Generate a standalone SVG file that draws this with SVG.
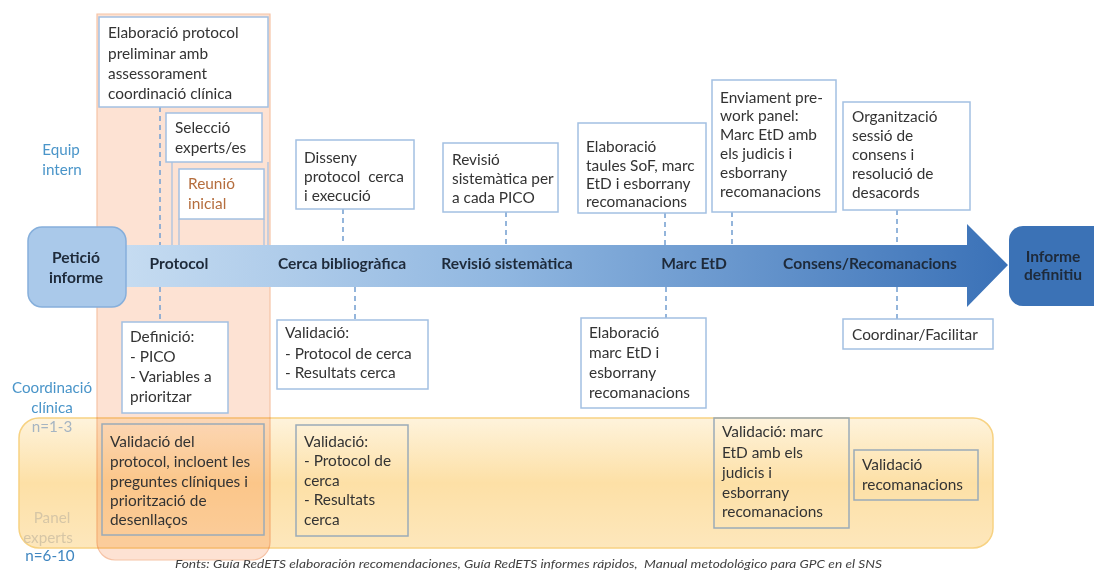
<svg xmlns="http://www.w3.org/2000/svg" width="1094" height="574" viewBox="0 0 1094 574">
  <style>
    text { font-family: Lato, "Open Sans", "Liberation Sans", sans-serif; }
    .t { font-size: 15.4px; fill: #333333; }
    .b { font-size: 15.6px; font-weight: bold; fill: #1e2a3a; text-anchor: middle; }
    .box { fill: #ffffff; stroke: #a3c0e2; stroke-width: 1.5; }
    .vbox { fill: none; stroke: #9aabb8; stroke-width: 1.5; }
    .dash { stroke: #7aa3d3; stroke-width: 1.6; stroke-dasharray: 5 4; fill: none; }
    .thin { stroke: #a3c0e2; stroke-width: 1.2; fill: none; }
    .side { font-size: 15.2px; text-anchor: middle; }
  </style>
  <defs>
    <linearGradient id="arrowGrad" gradientUnits="userSpaceOnUse" x1="100" y1="0" x2="1008" y2="0">
      <stop offset="0" stop-color="#c9def2"/>
      <stop offset="0.45" stop-color="#8fb6e0"/>
      <stop offset="1" stop-color="#3a71b7"/>
    </linearGradient>
    <linearGradient id="bandGrad" x1="0" y1="0" x2="0" y2="1">
      <stop offset="0" stop-color="#fef3dc"/>
      <stop offset="0.5" stop-color="#fde0a6"/>
      <stop offset="1" stop-color="#fde7bc"/>
    </linearGradient>
  </defs>

  <!-- background lanes -->
  <g id="lane-protocol">
    <path d="M97 14 H270 V542 A18 18 0 0 1 252 560 H115 A18 18 0 0 1 97 542 Z" fill="#fde2d3" stroke="#f6c3a6" stroke-width="1.2"/>
  </g>
  <g id="lane-panel">
    <rect x="19" y="418" width="974" height="130" rx="20" fill="url(#bandGrad)" stroke="#f7d282" stroke-width="1.5" style="mix-blend-mode:multiply"/>
  </g>

  <!-- connectors -->
  <g id="connectors">
    <line class="dash" x1="160" y1="107" x2="160" y2="245"/>
    <line class="dash" x1="160" y1="287" x2="160" y2="322"/>
    <line class="dash" x1="343" y1="209" x2="343" y2="245"/>
    <line class="dash" x1="355" y1="287" x2="355" y2="320"/>
    <line class="dash" x1="506" y1="212" x2="506" y2="245"/>
    <line class="dash" x1="665" y1="213" x2="665" y2="245"/>
    <line class="dash" x1="666" y1="287" x2="666" y2="318"/>
    <line class="dash" x1="732" y1="212" x2="732" y2="245"/>
    <line class="dash" x1="897" y1="210" x2="897" y2="245"/>
    <line class="dash" x1="897" y1="287" x2="897" y2="319"/>
    <line class="thin" x1="172" y1="162" x2="172" y2="245"/>
    <line class="thin" x1="268" y1="162" x2="268" y2="245"/>
    <line class="thin" x1="179" y1="219" x2="179" y2="245"/>
    <line class="thin" x1="264" y1="219" x2="264" y2="245"/>
  </g>

  <!-- main process arrow -->
  <g id="process-arrow">
    <path d="M100 245 H967 V224 L1008 265 L967 307 V287 H100 Z" fill="url(#arrowGrad)"/>
    <text class="b" x="179" y="269">Protocol</text>
    <text class="b" x="342" y="269">Cerca bibliogràfica</text>
    <text class="b" x="507" y="269">Revisió sistemàtica</text>
    <text class="b" x="694" y="269">Marc EtD</text>
    <text class="b" x="870" y="269">Consens/Recomanacions</text>
  </g>

  <g id="peticio-informe">
    <rect x="28" y="227" width="98" height="80" rx="14" fill="#aac9ea" stroke="#86afdb" stroke-width="1.5"/>
    <text class="b" x="76" y="263">Petició</text>
    <text class="b" x="76" y="283">informe</text>
  </g>

  <g id="informe-definitiu">
    <rect x="1009" y="226" width="100" height="80" rx="14" fill="#3b72b6"/>
    <text class="b" x="1053" y="262" fill="#17243a">Informe</text>
    <text class="b" x="1053" y="280" fill="#17243a">definitiu</text>
  </g>

  <!-- lane labels -->
  <g id="lane-labels">
    <text class="side" x="61" y="155" fill="#4a95c9">Equip</text>
    <text class="side" x="62" y="175" fill="#4a95c9">intern</text>
    <text class="side" x="52" y="393" fill="#4a95c9">Coordinació</text>
    <text class="side" x="52" y="413" fill="#4a95c9">clínica</text>
    <text class="side" x="52" y="432" fill="#a5b4c2">n=1-3</text>
    <text class="side" x="52" y="523" fill="#d6c6a6">Panel</text>
    <text class="side" x="48" y="543" fill="#d6c6a6">experts</text>
    <text class="side" x="50" y="561" fill="#3f86c0">n=6-10</text>
  </g>

  <!-- internal team tasks -->
  <g id="elaboracio-protocol">
    <rect class="box" x="99" y="17" width="169" height="90"/>
    <text class="t" x="108" y="38">Elaboració protocol</text>
    <text class="t" x="108" y="59">preliminar amb</text>
    <text class="t" x="108" y="79">assessorament</text>
    <text class="t" x="108" y="99">coordinació clínica</text>
  </g>
  <g id="seleccio-experts">
    <rect class="box" x="166" y="113" width="96" height="49"/>
    <text class="t" x="175" y="133">Selecció</text>
    <text class="t" x="175" y="153">experts/es</text>
  </g>
  <g id="reunio-inicial">
    <rect class="box" x="179" y="169" width="85" height="50"/>
    <text class="t" x="188" y="189" style="fill:#b56e3e">Reunió</text>
    <text class="t" x="188" y="209" style="fill:#b56e3e">inicial</text>
  </g>
  <g id="disseny-cerca">
    <rect class="box" x="296" y="140" width="118" height="69"/>
    <text class="t" x="304" y="163">Disseny</text>
    <text class="t" x="304" y="182" xml:space="preserve">protocol  cerca</text>
    <text class="t" x="304" y="201">i execució</text>
  </g>
  <g id="revisio-pico">
    <rect class="box" x="443" y="143" width="115" height="69"/>
    <text class="t" x="452" y="165">Revisió</text>
    <text class="t" x="452" y="184">sistemàtica per</text>
    <text class="t" x="452" y="203">a cada PICO</text>
  </g>
  <g id="taules-sof">
    <rect class="box" x="578" y="123" width="128" height="90"/>
    <text class="t" x="586" y="152">Elaboració</text>
    <text class="t" x="586" y="171">taules SoF, marc</text>
    <text class="t" x="586" y="189">EtD i esborrany</text>
    <text class="t" x="586" y="207">recomanacions</text>
  </g>
  <g id="enviament-prework">
    <rect class="box" x="712" y="80" width="124" height="132"/>
    <text class="t" x="720" y="103">Enviament pre-</text>
    <text class="t" x="720" y="121">work panel:</text>
    <text class="t" x="720" y="140">Marc EtD amb</text>
    <text class="t" x="720" y="159">els judicis i</text>
    <text class="t" x="720" y="178">esborrany</text>
    <text class="t" x="720" y="197">recomanacions</text>
  </g>
  <g id="organitzacio-sessio">
    <rect class="box" x="843" y="102" width="127" height="108"/>
    <text class="t" x="852" y="122">Organització</text>
    <text class="t" x="852" y="141">sessió de</text>
    <text class="t" x="852" y="160">consens i</text>
    <text class="t" x="852" y="179">resolució de</text>
    <text class="t" x="852" y="198">desacords</text>
  </g>

  <!-- clinical coordination tasks -->
  <g id="definicio">
    <rect class="box" x="122" y="322" width="106" height="91"/>
    <text class="t" x="130" y="342">Definició:</text>
    <text class="t" x="130" y="362">- PICO</text>
    <text class="t" x="130" y="382">- Variables a</text>
    <text class="t" x="130" y="402">prioritzar</text>
  </g>
  <g id="validacio-cerca-coord">
    <rect class="box" x="277" y="320" width="151" height="69"/>
    <text class="t" x="285" y="338">Validació:</text>
    <text class="t" x="285" y="359">- Protocol de cerca</text>
    <text class="t" x="285" y="378">- Resultats cerca</text>
  </g>
  <g id="elaboracio-marc">
    <rect class="box" x="581" y="318" width="125" height="90"/>
    <text class="t" x="589" y="338">Elaboració</text>
    <text class="t" x="589" y="358">marc EtD i</text>
    <text class="t" x="589" y="378">esborrany</text>
    <text class="t" x="589" y="398">recomanacions</text>
  </g>
  <g id="coordinar-facilitar">
    <rect class="box" x="843" y="319" width="150" height="30"/>
    <text class="t" x="852" y="340">Coordinar/Facilitar</text>
  </g>

  <!-- expert panel tasks -->
  <g id="validacio-protocol">
    <rect class="vbox" x="102" y="424" width="162" height="111"/>
    <text class="t" x="110" y="447">Validació del</text>
    <text class="t" x="110" y="467">protocol, incloent les</text>
    <text class="t" x="110" y="487">preguntes clíniques i</text>
    <text class="t" x="110" y="506">priorització de</text>
    <text class="t" x="110" y="525">desenllaços</text>
  </g>
  <g id="validacio-cerca-panel">
    <rect class="vbox" x="296" y="425" width="112" height="111"/>
    <text class="t" x="304" y="447">Validació:</text>
    <text class="t" x="304" y="466">- Protocol de</text>
    <text class="t" x="304" y="486">cerca</text>
    <text class="t" x="304" y="505">- Resultats</text>
    <text class="t" x="304" y="525">cerca</text>
  </g>
  <g id="validacio-marc">
    <rect class="vbox" x="714" y="418" width="135" height="110"/>
    <text class="t" x="722" y="437">Validació: marc</text>
    <text class="t" x="722" y="458">EtD amb els</text>
    <text class="t" x="722" y="478">judicis i</text>
    <text class="t" x="722" y="498">esborrany</text>
    <text class="t" x="722" y="517">recomanacions</text>
  </g>
  <g id="validacio-recomanacions">
    <rect class="vbox" x="854" y="450" width="124" height="50"/>
    <text class="t" x="862" y="470">Validació</text>
    <text class="t" x="862" y="490">recomanacions</text>
  </g>

  <!-- sources -->
  <text x="175" y="568" font-size="11.5" font-style="italic" fill="#404040" textLength="707" lengthAdjust="spacingAndGlyphs" xml:space="preserve">Fonts: Guía RedETS elaboración recomendaciones, Guía RedETS informes rápidos,  Manual metodológico para GPC en el SNS</text>
</svg>
